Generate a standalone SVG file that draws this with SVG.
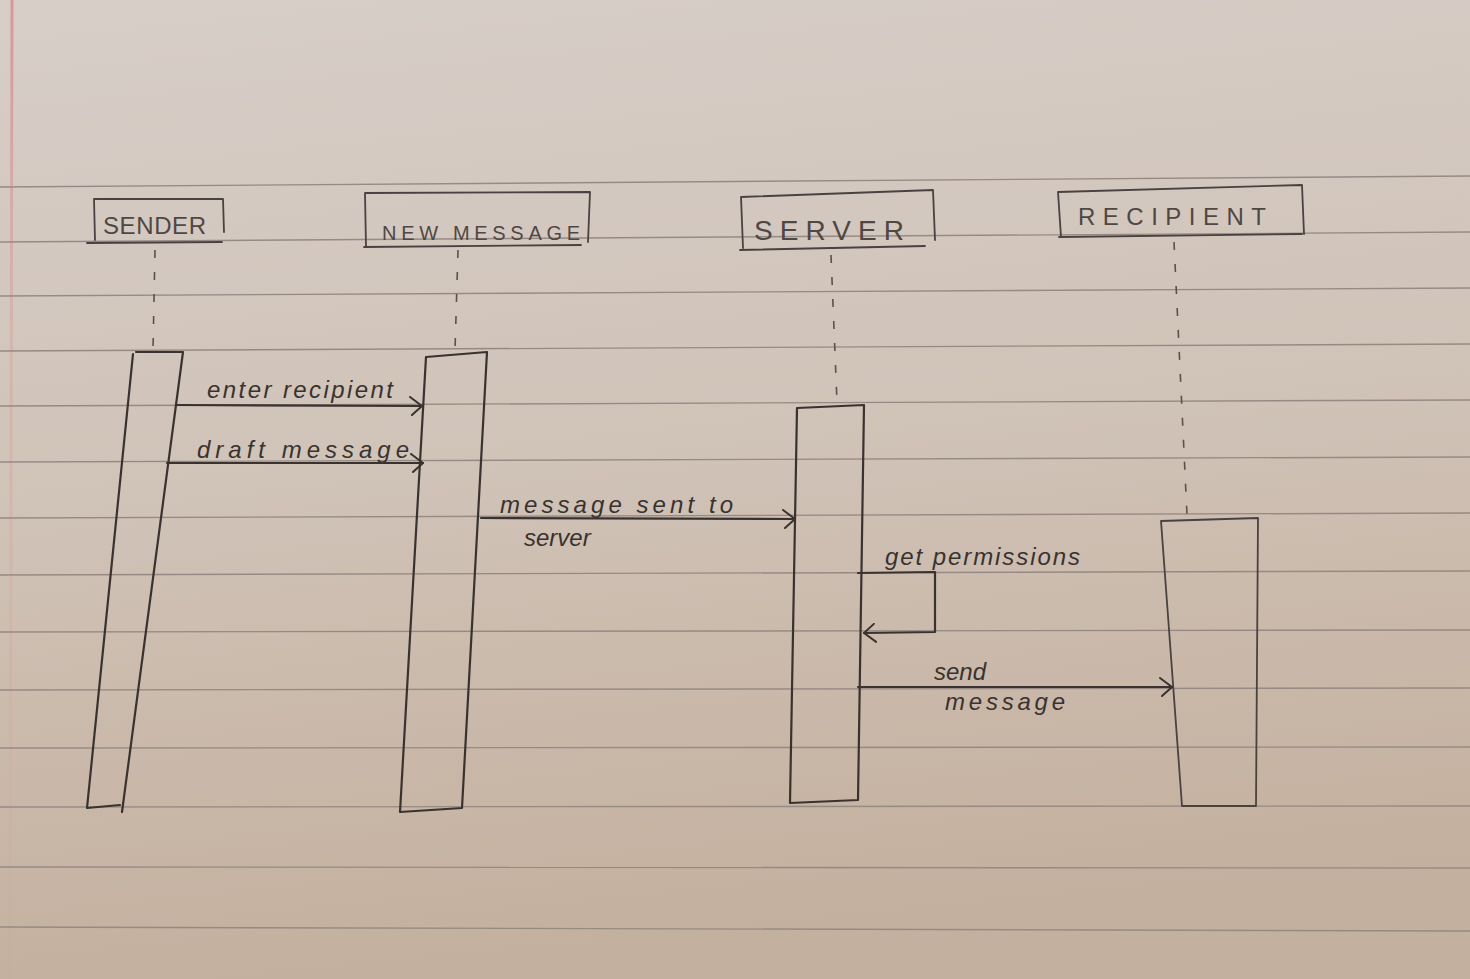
<svg xmlns="http://www.w3.org/2000/svg" width="1470" height="979" viewBox="0 0 1470 979">
<style>
.ink{fill:none;stroke:#3a322f;stroke-width:2.2;stroke-linecap:round;stroke-linejoin:round}
.pencil{fill:none;stroke:#4a4240;stroke-width:1.8;stroke-linecap:round;stroke-linejoin:round}
.life{fill:none;stroke:#5a514d;stroke-width:1.6;stroke-dasharray:8 14}
.rule{stroke:#978a84;stroke-width:1.4;fill:none}
.cap{font-family:"Liberation Sans","DejaVu Sans",sans-serif;fill:#4f4744;font-weight:normal}
.hand{font-family:"Liberation Sans","DejaVu Sans",sans-serif;font-style:italic;fill:#3a322f;font-size:24px}
</style>
<defs>
<linearGradient id="paper" x1="0" y1="0" x2="0.15" y2="1">
<stop offset="0" stop-color="#d7cec8"/>
<stop offset="0.5" stop-color="#d0c3b8"/>
<stop offset="1" stop-color="#c4b09e"/>
</linearGradient>
<linearGradient id="margin" x1="0" y1="0" x2="0" y2="1">
<stop offset="0" stop-color="#d98a8a" stop-opacity="0.8"/>
<stop offset="0.35" stop-color="#d99a95" stop-opacity="0.4"/>
<stop offset="1" stop-color="#d9a095" stop-opacity="0.1"/>
</linearGradient>
<marker id="arr" viewBox="0 0 14 20" refX="13" refY="10" markerWidth="14" markerHeight="20" markerUnits="userSpaceOnUse" orient="auto">
<path d="M1,1 L13,10 L3,19" fill="none" stroke="#3a322f" stroke-width="2" stroke-linecap="round" stroke-linejoin="round"/>
</marker>
</defs>
<rect x="0" y="0" width="1470" height="979" fill="url(#paper)"/>
<line x1="12" y1="0" x2="10" y2="979" stroke="url(#margin)" stroke-width="3"/>
<g id="paper-lines">
<line class="rule" x1="0" y1="187" x2="1470" y2="176"/>
<line class="rule" x1="0" y1="242" x2="1470" y2="232"/>
<line class="rule" x1="0" y1="296" x2="1470" y2="288"/>
<line class="rule" x1="0" y1="351" x2="1470" y2="344"/>
<line class="rule" x1="0" y1="406" x2="1470" y2="400"/>
<line class="rule" x1="0" y1="462" x2="1470" y2="457"/>
<line class="rule" x1="0" y1="518" x2="1470" y2="513"/>
<line class="rule" x1="0" y1="575" x2="1470" y2="571"/>
<line class="rule" x1="0" y1="632" x2="1470" y2="630"/>
<line class="rule" x1="0" y1="690" x2="1470" y2="688"/>
<line class="rule" x1="0" y1="748" x2="1470" y2="747"/>
<line class="rule" x1="0" y1="807" x2="1470" y2="806"/>
<line class="rule" x1="0" y1="867" x2="1470" y2="868"/>
<line class="rule" x1="0" y1="927" x2="1470" y2="931"/>
</g>

<g id="node-sender">
<path class="pencil" d="M94,199 L95,240 M94,199 L223,199 L224,232 M87,243 L222,242"/>
<text class="cap" x="103" y="234" font-size="24" textLength="103" lengthAdjust="spacing">SENDER</text>
<line class="life" x1="155" y1="250" x2="153" y2="350"/>
<path class="ink" d="M136,352 L183,352 L122,812 M133,354 L87,808 L120,805"/>
</g>

<g id="node-new-message">
<path class="pencil" d="M365,193 L366,247 M365,193 L590,192 L588,242 M364,247 L581,245"/>
<text class="cap" x="382" y="240" font-size="20" textLength="198" lengthAdjust="spacing">NEW MESSAGE</text>
<line class="life" x1="458" y1="250" x2="455" y2="350"/>
<path class="ink" d="M426,357 L487,352 L462,808 L400,812 Z"/>
</g>

<g id="node-server">
<path class="pencil" d="M741,197 L743,248 M741,197 L933,190 L935,240 M740,250 L925,246"/>
<text class="cap" x="754" y="240" font-size="28" textLength="150" lengthAdjust="spacing">SERVER</text>
<line class="life" x1="831" y1="255" x2="837" y2="402"/>
<path class="ink" d="M797,408 L864,405 L858,800 L790,803 Z"/>
</g>

<g id="node-recipient">
<path class="pencil" d="M1058,192 L1061,237 M1058,192 L1302,185 L1304,234 M1059,237 L1302,234"/>
<text class="cap" x="1078" y="225" font-size="24" textLength="188" lengthAdjust="spacing">RECIPIENT</text>
<line class="life" x1="1174" y1="242" x2="1187" y2="515"/>
<path class="pencil" stroke-width="2.2" d="M1161,521 L1258,518 L1256,806 L1182,806 Z"/>
</g>

<g id="connectors">
<line class="ink" x1="176" y1="405" x2="422" y2="406" marker-end="url(#arr)"/>
<text class="hand" x="207" y="398" textLength="186" lengthAdjust="spacing">enter recipient</text>

<line class="ink" x1="167" y1="463" x2="423" y2="463" marker-end="url(#arr)"/>
<text class="hand" x="197" y="458" font-size="26" textLength="212" lengthAdjust="spacing">draft message</text>

<line class="ink" x1="481" y1="518" x2="795" y2="519" marker-end="url(#arr)"/>
<text class="hand" x="500" y="513" font-size="25" textLength="233" lengthAdjust="spacing">message sent to</text>
<text class="hand" x="524" y="546">server</text>

<path class="ink" d="M858,573 L935,572 L935,632 L864,633" marker-end="url(#arr)"/>
<text class="hand" x="885" y="565" textLength="195" lengthAdjust="spacing">get permissions</text>

<line class="ink" x1="858" y1="687" x2="1172" y2="687" marker-end="url(#arr)"/>
<text class="hand" x="934" y="680">send</text>
<text class="hand" x="945" y="710" textLength="120" lengthAdjust="spacing">message</text>
</g>
</svg>
